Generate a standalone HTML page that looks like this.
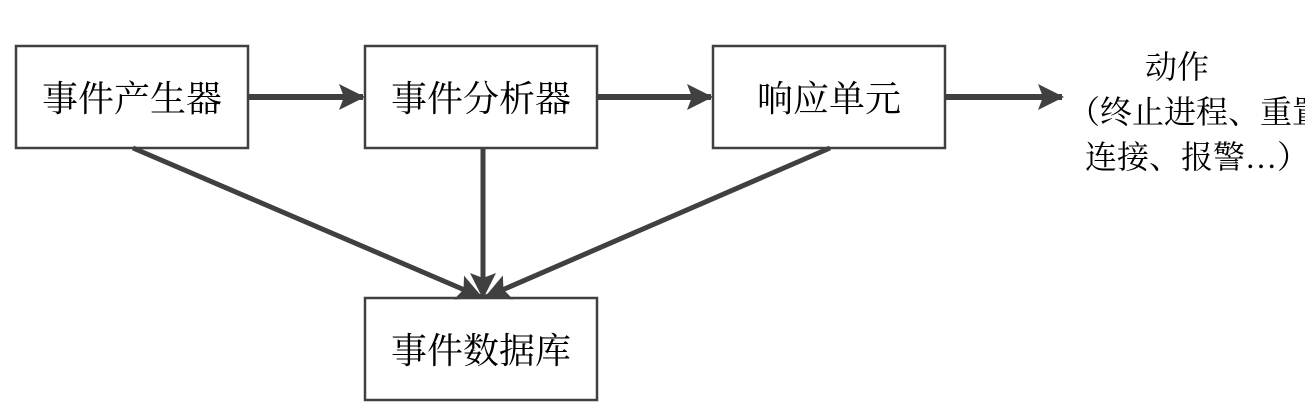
<!DOCTYPE html>
<html><head><meta charset="utf-8"><style>
body{margin:0;background:#fff;width:1305px;height:409px;overflow:hidden}
svg{display:block}
text{font-family:"Liberation Serif","Noto Serif CJK SC",serif;fill:#000}
</style></head><body>
<svg width="1305" height="409" viewBox="0 0 1305 409">
<defs><marker id="a" markerWidth="10" markerHeight="10" refX="9" refY="5" orient="auto" markerUnits="userSpaceOnUse" viewBox="0 0 10 10"><path d="M0,0 L10,5 L0,10 Z" fill="#404040"/></marker>
<marker id="b" markerWidth="26" markerHeight="26" refX="24" refY="13" orient="auto" markerUnits="userSpaceOnUse" viewBox="0 0 26 26"><path d="M0,0 L26,13 L0,26 L5,13 Z" fill="#404040"/></marker></defs>
<g fill="#fff" stroke="#404040" stroke-width="2.5">
<rect x="16" y="46" width="232" height="102"/>
<rect x="365" y="46" width="232" height="102"/>
<rect x="713" y="46" width="232" height="102"/>
<rect x="365" y="298" width="232" height="102"/>
</g>
<g stroke="#404040" stroke-width="6" fill="none">
<line x1="248" y1="97" x2="363" y2="97" marker-end="url(#b)"/>
<line x1="597" y1="97" x2="711" y2="97" marker-end="url(#b)"/>
<line x1="945" y1="97" x2="1062" y2="97" marker-end="url(#b)"/>
</g>
<g stroke="#404040" stroke-width="5" fill="none">
<line x1="133" y1="148" x2="481" y2="297" marker-end="url(#b)"/>
<line x1="483" y1="148" x2="483" y2="297" marker-end="url(#b)"/>
<line x1="830" y1="148" x2="486" y2="297" marker-end="url(#b)"/>
</g>
<g font-size="36" text-anchor="middle">
<text x="132" y="111">事件产生器</text>
<text x="481" y="111">事件分析器</text>
<text x="829" y="111">响应单元</text>
<text x="481" y="363">事件数据库</text>
</g>
<g font-size="32">
<text x="1177" y="78" text-anchor="middle">动作</text>
<text x="1068" y="123">（终止进程、重置</text>
<text x="1085" y="168">连接、报警…）</text>
</g>
</svg>
</body></html>
